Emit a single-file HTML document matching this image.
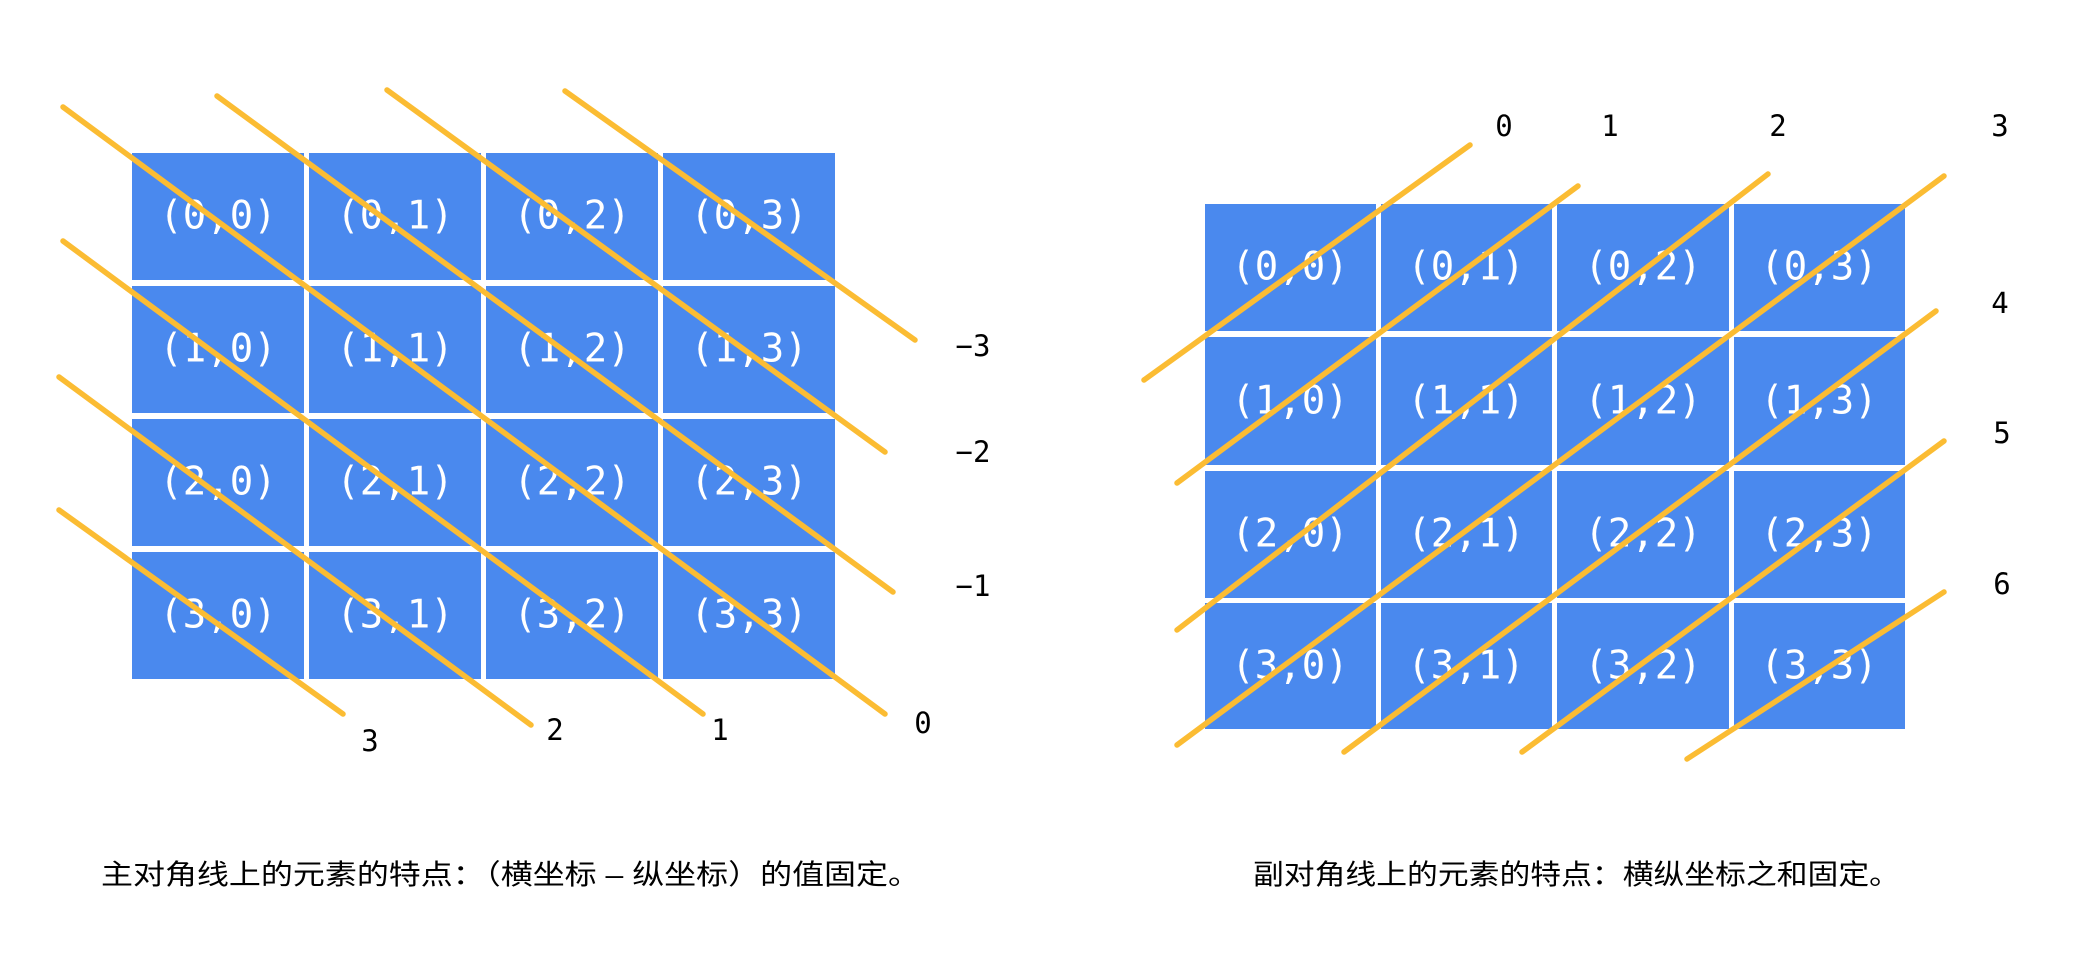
<!DOCTYPE html>
<html><head><meta charset="utf-8"><style>
html,body{margin:0;padding:0;background:#fff;}
svg{display:block;}
.c{font-family:"DejaVu Sans Mono","Liberation Mono",monospace;font-size:39px;fill:#fff;text-anchor:middle;dominant-baseline:central;}
.l{font-family:"DejaVu Sans Mono","Liberation Mono",monospace;font-size:29px;fill:#000;text-anchor:middle;dominant-baseline:central;}
.t{font-family:"Liberation Sans","Noto Sans CJK SC",sans-serif;font-size:28px;fill:#000;}
line{stroke:#FBBC33;stroke-width:5.5;stroke-linecap:round;}
</style></head><body>
<svg width="2090" height="978" viewBox="0 0 2090 978" xmlns="http://www.w3.org/2000/svg">
<g fill="#4A89EE">
<rect x="132" y="153" width="172" height="127"/><rect x="309" y="153" width="172" height="127"/><rect x="486" y="153" width="172" height="127"/><rect x="663" y="153" width="172" height="127"/>
<rect x="132" y="286" width="172" height="127"/><rect x="309" y="286" width="172" height="127"/><rect x="486" y="286" width="172" height="127"/><rect x="663" y="286" width="172" height="127"/>
<rect x="132" y="419" width="172" height="127"/><rect x="309" y="419" width="172" height="127"/><rect x="486" y="419" width="172" height="127"/><rect x="663" y="419" width="172" height="127"/>
<rect x="132" y="552" width="172" height="127"/><rect x="309" y="552" width="172" height="127"/><rect x="486" y="552" width="172" height="127"/><rect x="663" y="552" width="172" height="127"/>
<rect x="1205" y="204" width="171" height="127"/><rect x="1381" y="204" width="171" height="127"/><rect x="1557" y="204" width="172" height="127"/><rect x="1734" y="204" width="171" height="127"/>
<rect x="1205" y="337" width="171" height="128"/><rect x="1381" y="337" width="171" height="128"/><rect x="1557" y="337" width="172" height="128"/><rect x="1734" y="337" width="171" height="128"/>
<rect x="1205" y="471" width="171" height="127"/><rect x="1381" y="471" width="171" height="127"/><rect x="1557" y="471" width="172" height="127"/><rect x="1734" y="471" width="171" height="127"/>
<rect x="1205" y="603" width="171" height="126"/><rect x="1381" y="603" width="171" height="126"/><rect x="1557" y="603" width="172" height="126"/><rect x="1734" y="603" width="171" height="126"/>
</g>
<g class="c">
<text x="218" y="216">(0,0)</text><text x="395" y="216">(0,1)</text><text x="572" y="216">(0,2)</text><text x="749" y="216">(0,3)</text>
<text x="218" y="349">(1,0)</text><text x="395" y="349">(1,1)</text><text x="572" y="349">(1,2)</text><text x="749" y="349">(1,3)</text>
<text x="218" y="482">(2,0)</text><text x="395" y="482">(2,1)</text><text x="572" y="482">(2,2)</text><text x="749" y="482">(2,3)</text>
<text x="218" y="615">(3,0)</text><text x="395" y="615">(3,1)</text><text x="572" y="615">(3,2)</text><text x="749" y="615">(3,3)</text>
<text x="1290" y="267">(0,0)</text><text x="1466" y="267">(0,1)</text><text x="1643" y="267">(0,2)</text><text x="1819" y="267">(0,3)</text>
<text x="1290" y="401">(1,0)</text><text x="1466" y="401">(1,1)</text><text x="1643" y="401">(1,2)</text><text x="1819" y="401">(1,3)</text>
<text x="1290" y="534">(2,0)</text><text x="1466" y="534">(2,1)</text><text x="1643" y="534">(2,2)</text><text x="1819" y="534">(2,3)</text>
<text x="1290" y="666">(3,0)</text><text x="1466" y="666">(3,1)</text><text x="1643" y="666">(3,2)</text><text x="1819" y="666">(3,3)</text>
</g>
<g>
<line x1="565" y1="91" x2="915" y2="340"/>
<line x1="387" y1="90" x2="885" y2="452"/>
<line x1="217" y1="96" x2="893" y2="592"/>
<line x1="63" y1="107" x2="885" y2="714"/>
<line x1="63" y1="241" x2="703" y2="714"/>
<line x1="59" y1="377" x2="531" y2="725"/>
<line x1="59" y1="510" x2="343" y2="714"/>
<line x1="1470" y1="145" x2="1144" y2="380"/>
<line x1="1578" y1="186" x2="1177" y2="483"/>
<line x1="1768" y1="174" x2="1177" y2="630"/>
<line x1="1944" y1="176" x2="1177" y2="745"/>
<line x1="1936" y1="311" x2="1344" y2="752"/>
<line x1="1944" y1="441" x2="1522" y2="752"/>
<line x1="1944" y1="592" x2="1687" y2="759"/>
</g>
<g class="l">
<text x="973" y="346">−3</text><text x="973" y="452">−2</text><text x="973" y="586">−1</text>
<text x="923" y="723">0</text><text x="720" y="730">1</text><text x="555" y="730">2</text><text x="370" y="741">3</text>
<text x="1504" y="126">0</text><text x="1610" y="126">1</text><text x="1778" y="126">2</text><text x="2000" y="126">3</text>
<text x="2000" y="303">4</text><text x="2002" y="433">5</text><text x="2002" y="584">6</text>
</g>
<text class="t" x="101" y="884" textLength="819" lengthAdjust="spacingAndGlyphs">主对角线上的元素的特点：（横坐标 – 纵坐标）的值固定。</text>
<text class="t" x="1253" y="884" textLength="647" lengthAdjust="spacingAndGlyphs">副对角线上的元素的特点：横纵坐标之和固定。</text>
</svg>
</body></html>
